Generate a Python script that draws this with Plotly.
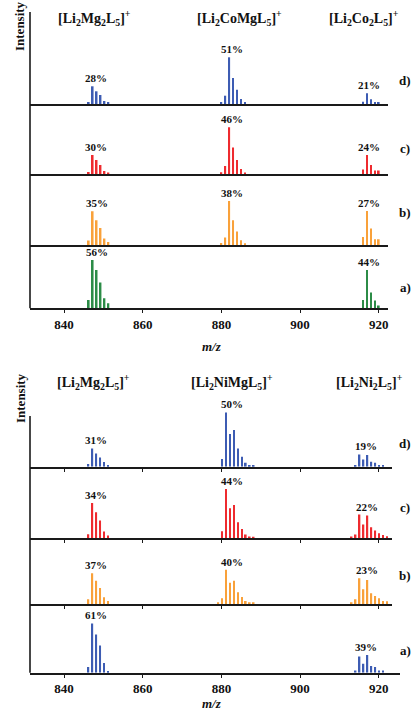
import plotly.graph_objects as go

W, H = 414, 716
OFF = 0  # page body margin removed by post_script

# ---------------- data (relative intensities, a.u.) ----------------
rows = ["d", "c", "b", "a"]

# top panel : Li2Mg2L5 / Li2CoMgL5 / Li2Co2L5
top_mz_mg2 = [846.3, 847.3, 848.3, 849.3, 850.3, 851.3]
top_mz_comg = [880.0, 881.0, 882.0, 883.0, 884.0, 885.0, 886.0]
top_mz_co2 = [916.0, 917.0, 918.0, 919.0, 920.0]

top_d_mg2 = [1.7, 17.7, 12.7, 9.0, 3.0, 1.3]
top_c_mg2 = [2.3, 19.3, 14.3, 9.3, 3.3, 1.7]
top_b_mg2 = [4.7, 34.0, 25.0, 17.3, 6.7, 3.3]
top_a_mg2 = [8.3, 48.3, 38.3, 25.7, 10.0, 5.0]

top_d_comg = [1.7, 8.3, 46.7, 26.0, 14.3, 5.0, 1.3]
top_c_comg = [2.0, 8.3, 47.0, 26.7, 14.3, 5.3, 1.7]
top_b_comg = [2.3, 7.7, 44.3, 25.0, 13.7, 5.0, 2.0]
top_a_comg = [0, 0, 0, 0, 0, 0, 0]

top_d_co2 = [2.3, 10.7, 4.7, 2.0, 2.0]
top_c_co2 = [4.7, 19.3, 9.3, 3.7, 3.7]
top_b_co2 = [8.3, 34.3, 16.7, 6.0, 6.0]
top_a_co2 = [8.3, 38.3, 15.7, 7.7, 2.7]

top_pct = {"d": ["28%", "51%", "21%"], "c": ["30%", "46%", "24%"],
           "b": ["35%", "38%", "27%"], "a": ["56%", None, "44%"]}

# bottom panel : Li2Mg2L5 / Li2NiMgL5 / Li2Ni2L5
bot_mz_mg2 = [846.2, 847.2, 848.2, 849.2, 850.2, 851.2]
bot_mz_nimg = [879.2, 880.2, 881.2, 882.2, 883.2, 884.2, 885.2, 886.2, 887.2, 888.2]
bot_mz_ni2 = [913.1, 914.1, 915.1, 916.1, 917.1, 918.1, 919.1, 920.1, 921.1, 922.1]

bot_d_mg2 = [2.7, 18.3, 13.3, 9.3, 4.7, 1.7]
bot_c_mg2 = [4.0, 35.3, 26.0, 17.7, 6.7, 2.7]
bot_b_mg2 = [4.7, 30.7, 23.3, 16.0, 6.7, 3.0]
bot_a_mg2 = [5.7, 49.3, 38.3, 27.3, 9.7, 1.7]

bot_d_nimg = [0, 7.7, 54.3, 32.7, 36.7, 18.3, 10.0, 4.0, 1.7, 1.0]
bot_c_nimg = [0, 7.0, 49.3, 30.0, 33.3, 16.0, 9.3, 3.7, 1.7, 1.0]
bot_b_nimg = [1.7, 5.7, 34.3, 21.3, 23.3, 11.7, 7.0, 3.0, 1.7, 1.0]
bot_a_nimg = [0, 0, 0, 0, 0, 0, 0, 0, 0, 0]

bot_d_ni2 = [0, 1.7, 12.3, 7.3, 11.7, 5.0, 4.0, 1.7, 1.0, 0]
bot_c_ni2 = [1.7, 3.7, 23.7, 13.7, 22.7, 11.0, 7.7, 5.0, 3.3, 2.0]
bot_b_ni2 = [1.7, 4.7, 25.7, 14.7, 24.0, 10.7, 8.0, 5.7, 3.0, 2.7]
bot_a_ni2 = [0, 2.3, 16.3, 9.0, 17.7, 6.7, 5.7, 2.3, 2.3, 0]

bot_pct = {"d": ["31%", "50%", "19%"], "c": ["34%", "44%", "22%"],
           "b": ["37%", "40%", "23%"], "a": ["61%", None, "39%"]}

top_labels = ["[Li<sub>2</sub>Mg<sub>2</sub>L<sub>5</sub>]<sup>+</sup>",
              "[Li<sub>2</sub>CoMgL<sub>5</sub>]<sup>+</sup>",
              "[Li<sub>2</sub>Co<sub>2</sub>L<sub>5</sub>]<sup>+</sup>"]
bot_labels = ["[Li<sub>2</sub>Mg<sub>2</sub>L<sub>5</sub>]<sup>+</sup>",
              "[Li<sub>2</sub>NiMgL<sub>5</sub>]<sup>+</sup>",
              "[Li<sub>2</sub>Ni<sub>2</sub>L<sub>5</sub>]<sup>+</sup>"]

x_ticks = [840, 860, 880, 900, 920]

top_colors = {"d": "#3D5CB3", "c": "#EE2B2F", "b": "#F9A13A", "a": "#2C8C47"}
bot_colors = {"d": "#3D5CB3", "c": "#EE2B2F", "b": "#F9A13A", "a": "#3D5CB3"}

# ---------------- layout helpers ----------------
FONT = "Liberation Serif"
LINE = "#1a1a1a"


def fx(p):
    return (p - OFF) / W


def fy(p):
    return 1 - (p - OFF) / H


fig = go.Figure()
layout = {}
annotations = []
shapes = []

panels = [
    dict(bounds=[12, 104, 174.3, 245.3, 308.3], x0=30, x1=388, xa1=388,
         mz=[top_mz_mg2, top_mz_comg, top_mz_co2],
         vals={"d": [top_d_mg2, top_d_comg, top_d_co2], "c": [top_c_mg2, top_c_comg, top_c_co2],
               "b": [top_b_mg2, top_b_comg, top_b_co2], "a": [top_a_mg2, top_a_comg, top_a_co2]},
         pct=top_pct, colors=top_colors, sep_ticks=False, labels=top_labels,
         label_x=[94, 239, 364], label_y=18, axis_top=12, int_y=26, mz_y=346,
         tag_y={"d": 80, "c": 148, "b": 213, "a": 287}),
    dict(bounds=[378, 466.7, 538.3, 604, 672.7], x0=30, x1=392, xa1=400,
         mz=[bot_mz_mg2, bot_mz_nimg, bot_mz_ni2],
         vals={"d": [bot_d_mg2, bot_d_nimg, bot_d_ni2], "c": [bot_c_mg2, bot_c_nimg, bot_c_ni2],
               "b": [bot_b_mg2, bot_b_nimg, bot_b_ni2], "a": [bot_a_mg2, bot_a_nimg, bot_a_ni2]},
         pct=bot_pct, colors=bot_colors, sep_ticks=True, labels=bot_labels,
         label_x=[93, 232, 369], label_y=382, axis_top=416, int_y=398, mz_y=703,
         tag_y={"d": 443, "c": 507, "b": 575, "a": 650}),
]

PXU = 3.935  # pixels per m/z unit
k = 0
for P in panels:
    for i, r in enumerate(rows):
        k += 1
        top_px, bot_px = P["bounds"][i], P["bounds"][i + 1]
        hgt = bot_px - top_px
        last = r == "a"
        xr = P["xa1"] if last else P["x1"]
        x_lo = 840 - (64 - P["x0"]) / PXU
        x_hi = 840 + (xr - 64) / PXU
        for mz, v in zip(P["mz"], P["vals"][r]):
            fig.add_trace(go.Bar(x=mz, y=v, width=0.42, marker_color=P["colors"][r],
                                 marker_line_width=0, xaxis=f"x{k}", yaxis=f"y{k}",
                                 showlegend=False, hoverinfo="x+y"))
        for j, (mz, v) in enumerate(zip(P["mz"], P["vals"][r])):
            t = P["pct"][r][j]
            if t is None:
                continue
            tot = sum(v)
            cx = sum(m * q for m, q in zip(mz, v)) / tot
            annotations.append(dict(x=cx, y=max(v), xref=f"x{k}", yref=f"y{k}", text=f"<b>{t}</b>",
                                    showarrow=False, yanchor="bottom", yshift=0,
                                    font=dict(family=FONT, size=11, color="#111")))
        xs = "xaxis" if k == 1 else f"xaxis{k}"
        ys = "yaxis" if k == 1 else f"yaxis{k}"
        show_ticks = last or P["sep_ticks"]
        layout[xs] = dict(domain=[fx(P["x0"]), fx(xr)], range=[x_lo, x_hi], anchor=f"y{k}",
                          showline=True, linecolor=LINE, linewidth=1.6, showgrid=False,
                          zeroline=False, tickvals=x_ticks, ticks="outside" if show_ticks else "",
                          ticklen=3, tickwidth=1.2, tickcolor=LINE,
                          showticklabels=last,
                          tickfont=dict(family=FONT, size=13, color="#111", weight="bold"),
                          fixedrange=True)
        layout[ys] = dict(domain=[fy(bot_px), fy(top_px)], range=[0, hgt], anchor=f"x{k}",
                          visible=False, fixedrange=True)
        annotations.append(dict(x=fx(405), y=fy(P["tag_y"][r]), xref="paper", yref="paper",
                                text=f"<b>{r})</b>", showarrow=False, xanchor="center",
                                yanchor="middle", font=dict(family=FONT, size=13, color="#111")))
    # formula labels
    for lx, lt in zip(P["label_x"], P["labels"]):
        annotations.append(dict(x=fx(lx), y=fy(P["label_y"]), xref="paper", yref="paper",
                                text=f"<b>{lt}</b>", showarrow=False, xanchor="center",
                                yanchor="middle", font=dict(family=FONT, size=14, color="#111")))
    # Intensity label
    annotations.append(dict(x=fx(20), y=fy(P["int_y"]), xref="paper", yref="paper",
                            text="<b>Intensity</b>", showarrow=False, textangle=-90,
                            xanchor="center", yanchor="middle",
                            font=dict(family=FONT, size=13, color="#111")))
    # m/z title
    annotations.append(dict(x=fx(212), y=fy(P["mz_y"]), xref="paper", yref="paper",
                            text="<b><i>m/z</i></b>", showarrow=False, xanchor="center",
                            yanchor="middle", font=dict(family=FONT, size=13, color="#111")))
    # left vertical axis line
    shapes.append(dict(type="line", xref="paper", yref="paper", x0=fx(P["x0"]), x1=fx(P["x0"]),
                       y0=fy(P["axis_top"]), y1=fy(P["bounds"][-1]),
                       line=dict(color=LINE, width=1.6)))

fig.update_layout(**layout)
fig.update_layout(width=W, height=H, margin=dict(l=0, r=0, t=0, b=0),
                  paper_bgcolor="white", plot_bgcolor="white", barmode="overlay",
                  annotations=annotations, shapes=shapes, showlegend=False)

fig.write_html("out.html", config={"displayModeBar": False},
               post_script="document.body.style.margin='0';document.body.style.overflow='hidden';")
